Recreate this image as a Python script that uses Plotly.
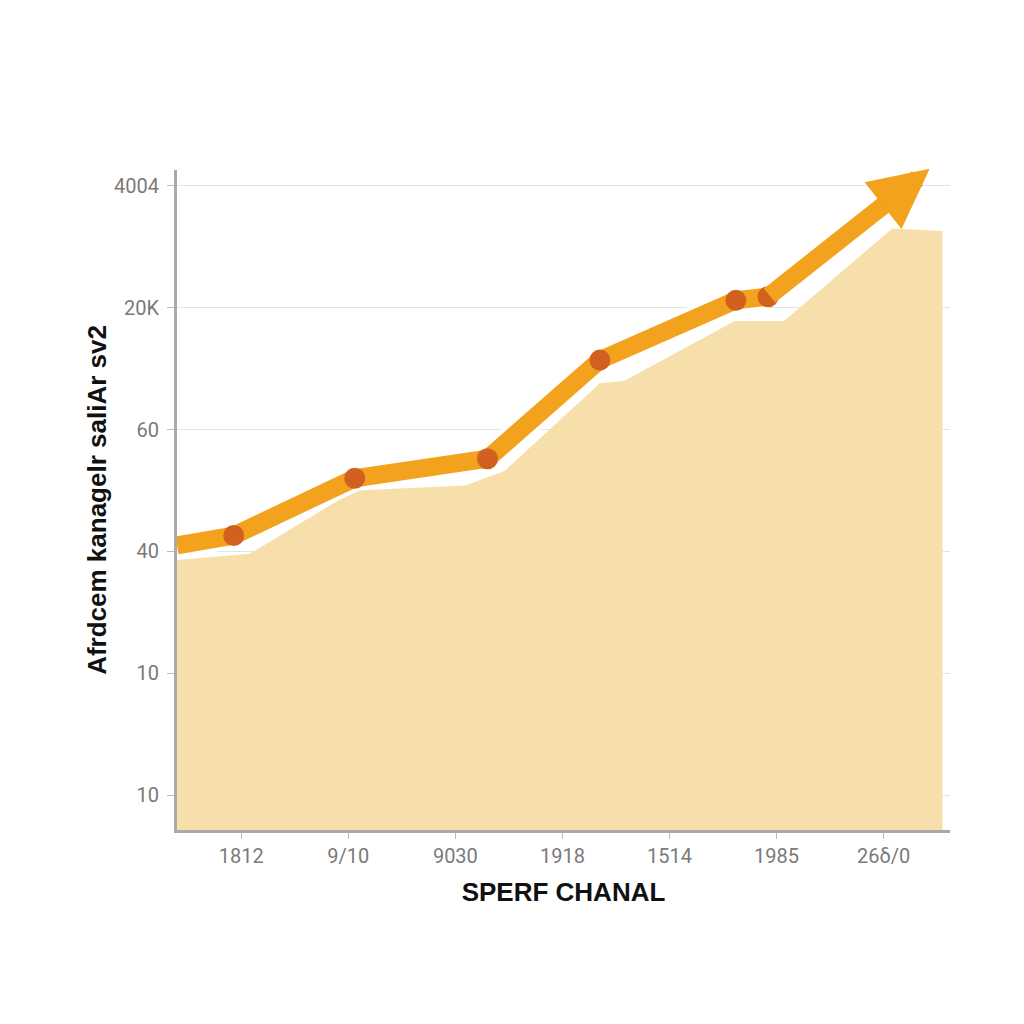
import plotly.graph_objs as go

# --------------------------------------------------------------------------------
# Data

x_labels = ['1812', '9/10', '9030', '1918', '1514', '1985', '26δ/0']
x_pos = [0, 1, 2, 3, 4, 5, 6]

y_labels = ['10', '10', '40', '60', '20K', '4004']
y_pos = [1, 2, 3, 4, 5, 6]

# shaded area under the trend
area_x = [-0.6, 0.08, 1.06, 2.09, 2.46, 3.35, 3.58, 4.61, 5.07, 6.08, 6.55]
area_y = [2.93, 2.98, 3.50, 3.54, 3.66, 4.38, 4.40, 4.89, 4.89, 5.65, 5.63]

# orange trend line with dots
trend_x = [-0.6, -0.07, 1.06, 2.30, 3.35, 4.62, 4.92]
trend_y = [3.05, 3.13, 3.60, 3.76, 4.57, 5.06, 5.09]

# arrow tip at the end of the trend
arrow_x = 6.43
arrow_y = 6.14

# --------------------------------------------------------------------------------
# Traces

trace_area = go.Scatter(dict(
    x=area_x,
    y=area_y,
    mode='lines',
    fill='tozeroy',
    fillcolor='#F7DFAB',
    line=dict(width=0, color='#F7DFAB'),
    hoverinfo='skip',
))

trace_halo = go.Scatter(dict(
    x=trend_x,
    y=trend_y,
    mode='lines',
    line=dict(width=26, color='white'),
    hoverinfo='skip',
))

trace_line = go.Scatter(dict(
    x=trend_x,
    y=trend_y,
    mode='lines',
    line=dict(width=18, color='#F2A21C'),
))

trace_dots = go.Scatter(dict(
    x=trend_x[1:],
    y=trend_y[1:],
    mode='markers',
    marker=dict(size=21, color='#D2611F', line=dict(width=0)),
))

tick_font = dict(family='Roboto, Liberation Sans, sans-serif', size=20, color='#7a7a7a')
title_font = dict(family='Liberation Sans, Arial, sans-serif', size=26, color='#111111')

layout = go.Layout(
    width=1024,
    height=1024,
    paper_bgcolor='white',
    plot_bgcolor='white',
    showlegend=False,
    margin=dict(l=169, r=82, t=162, b=202),
    xaxis=dict(
        range=[-0.6, 6.62],
        tickvals=x_pos,
        ticktext=x_labels,
        tickfont=tick_font,
        ticks='outside',
        ticklen=6,
        tickcolor='#bbbbbb',
        showgrid=False,
        zeroline=False,
        showline=True,
        linecolor='#a9a9a9',
        linewidth=3,
        title=dict(text='<b>SPERF CHANAL</b>', font=title_font, standoff=16),
    ),
    yaxis=dict(
        range=[0.713, 6.13],
        tickvals=y_pos,
        ticktext=y_labels,
        tickfont=tick_font,
        ticks='outside',
        ticklen=7,
        tickcolor='#bbbbbb',
        ticklabelstandoff=4,
        showgrid=True,
        gridcolor='#e4e4e4',
        gridwidth=1,
        zeroline=False,
        showline=True,
        linecolor='#a9a9a9',
        linewidth=3,
        title=dict(text='<b>Afrdcem kanagelr saliAr sv2</b>', font=title_font, standoff=0),
    ),
    annotations=[dict(
        x=arrow_x, y=arrow_y,
        ax=trend_x[-1], ay=trend_y[-1],
        xref='x', yref='y', axref='x', ayref='y',
        showarrow=True,
        arrowhead=2,
        arrowsize=0.66,
        arrowwidth=18,
        arrowcolor='#F2A21C',
        standoff=0,
        text='',
    )],
)

fig = go.Figure(data=[trace_area, trace_halo, trace_line, trace_dots], layout=layout)
fig.write_html('out.html')
